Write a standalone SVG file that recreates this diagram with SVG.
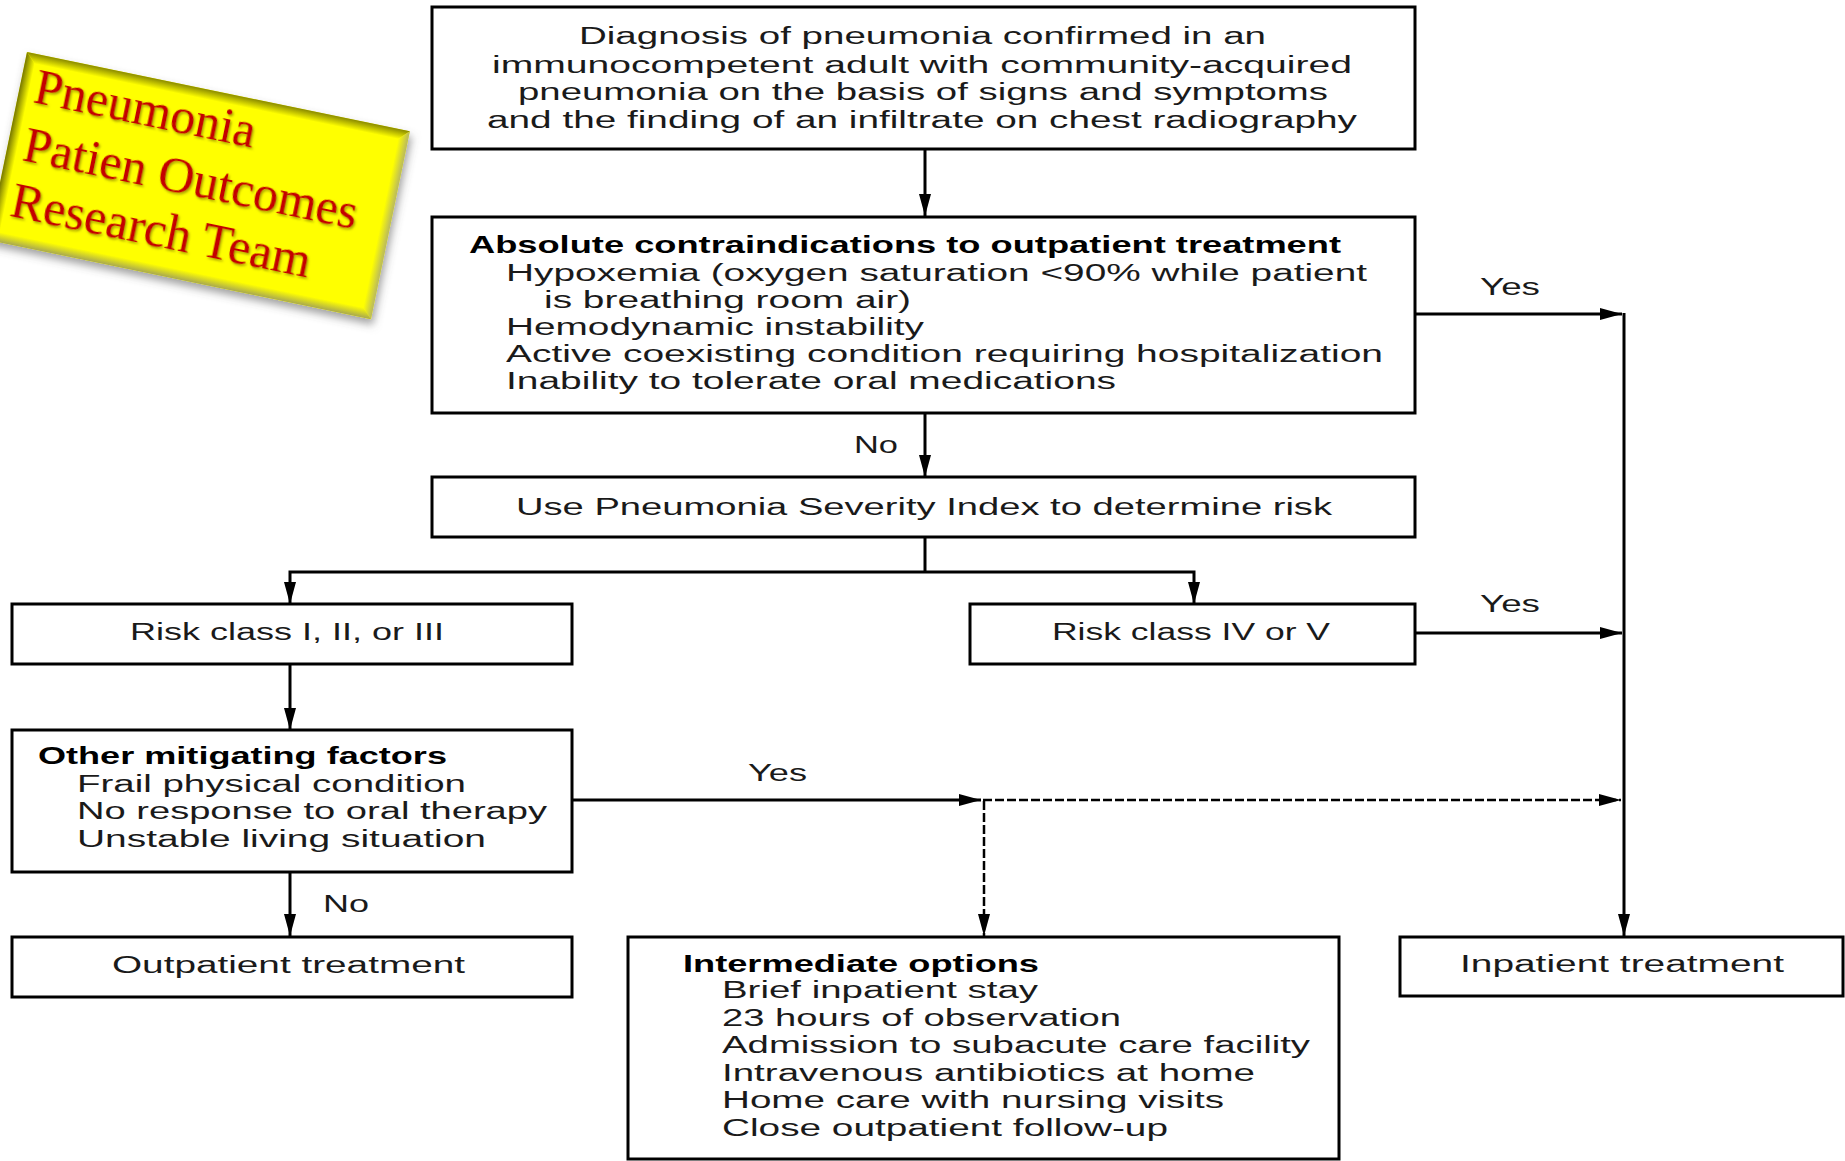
<svg xmlns="http://www.w3.org/2000/svg" width="1845" height="1161" viewBox="0 0 1845 1161">
<style>
  .box { fill: #ffffff; stroke: #000000; stroke-width: 3; }
  .t { font-family: "Liberation Sans", Arial, sans-serif; font-size: 23px; fill: #1a1a1a; }
  .b { font-weight: bold; fill: #000000; }
  .c { fill: none; stroke: #000000; stroke-width: 3; }
  .d { fill: none; stroke: #000000; stroke-width: 2.5; stroke-dasharray: 9 3; }
  .lbl { font-family: "Liberation Serif", "Times New Roman", serif; font-size: 50px; fill: #c40000; }
</style>
<defs>
  <marker id="ah" viewBox="0 0 22 12" markerUnits="userSpaceOnUse" markerWidth="22" markerHeight="12" refX="22" refY="6" orient="auto">
    <path d="M0,0 L22,6 L0,12 z" fill="#000000"/>
  </marker>
  <filter id="shadow" x="-10%" y="-10%" width="125%" height="130%">
    <feDropShadow dx="3" dy="5" stdDeviation="4" flood-color="#555555" flood-opacity="0.55"/>
  </filter>
  <filter id="tshadow" x="-5%" y="-10%" width="115%" height="130%">
    <feDropShadow dx="1.5" dy="1.5" stdDeviation="0.8" flood-color="#6b5a00" flood-opacity="0.6"/>
  </filter>
  <linearGradient id="gTop" x1="0" y1="0" x2="0" y2="1">
    <stop offset="0" stop-color="#8a8a00"/>
    <stop offset="1" stop-color="#ffff00"/>
  </linearGradient>
  <linearGradient id="gLeft" x1="0" y1="0" x2="1" y2="0">
    <stop offset="0" stop-color="#767600"/>
    <stop offset="1" stop-color="#ffff00"/>
  </linearGradient>
  <linearGradient id="gRight" x1="0" y1="0" x2="1" y2="0">
    <stop offset="0" stop-color="#ffff00"/>
    <stop offset="1" stop-color="#b8b860"/>
  </linearGradient>
  <linearGradient id="gBottom" x1="0" y1="0" x2="0" y2="1">
    <stop offset="0" stop-color="#ffff00"/>
    <stop offset="1" stop-color="#a8a850"/>
  </linearGradient>
</defs>

<!-- Title label -->
<g id="title-label" transform="translate(27,52) rotate(11.7)">
  <g filter="url(#shadow)">
    <rect x="0" y="0" width="391" height="192" fill="#ffff00"/>
  </g>
  <polygon points="0,0 391,0 381,10 10,10" fill="url(#gTop)"/>
  <polygon points="0,0 10,10 10,182 0,192" fill="url(#gLeft)"/>
  <polygon points="391,0 391,192 381,182 381,10" fill="url(#gRight)"/>
  <polygon points="0,192 391,192 381,182 10,182" fill="url(#gBottom)"/>
  <g filter="url(#tshadow)">
    <text class="lbl" x="15" y="48">Pneumonia</text>
    <text class="lbl" x="16" y="107">Patien Outcomes</text>
    <text class="lbl" x="15" y="164">Research Team</text>
  </g>
</g>

<!-- Connectors -->
<g id="connectors">
  <line class="c" x1="925" y1="149" x2="925" y2="216" marker-end="url(#ah)"/>
  <line class="c" x1="925" y1="413" x2="925" y2="477" marker-end="url(#ah)"/>
  <line class="c" x1="925" y1="537" x2="925" y2="572"/>
  <polyline class="c" points="925,572 290,572 290,604" marker-end="url(#ah)"/>
  <polyline class="c" points="925,572 1194,572 1194,604" marker-end="url(#ah)"/>
  <line class="c" x1="1415" y1="314" x2="1622" y2="314" marker-end="url(#ah)"/>
  <line class="c" x1="1415" y1="633" x2="1622" y2="633" marker-end="url(#ah)"/>
  <line class="c" x1="1624" y1="313" x2="1624" y2="936" marker-end="url(#ah)"/>
  <line class="c" x1="290" y1="664" x2="290" y2="730" marker-end="url(#ah)"/>
  <line class="c" x1="290" y1="872" x2="290" y2="936" marker-end="url(#ah)"/>
  <line class="c" x1="572" y1="800" x2="981" y2="800" marker-end="url(#ah)"/>
  <line class="d" x1="983" y1="800" x2="1621" y2="800" marker-end="url(#ah)"/>
  <line class="d" x1="984" y1="801" x2="984" y2="936" marker-end="url(#ah)"/>
  <text class="t" x="854" y="453" textLength="44" lengthAdjust="spacingAndGlyphs">No</text>
  <text class="t" x="1480" y="295" textLength="60" lengthAdjust="spacingAndGlyphs">Yes</text>
  <text class="t" x="1480" y="612" textLength="60" lengthAdjust="spacingAndGlyphs">Yes</text>
  <text class="t" x="748" y="781" textLength="59" lengthAdjust="spacingAndGlyphs">Yes</text>
  <text class="t" x="323" y="912" textLength="46" lengthAdjust="spacingAndGlyphs">No</text>
</g>

<!-- Nodes -->
<g id="diagnosis">
  <rect class="box" x="432" y="7" width="983" height="142"/>
  <text class="t" x="579" y="44" textLength="687" lengthAdjust="spacingAndGlyphs">Diagnosis of pneumonia confirmed in an</text>
  <text class="t" x="492" y="73" textLength="860" lengthAdjust="spacingAndGlyphs">immunocompetent adult with community-acquired</text>
  <text class="t" x="518" y="100" textLength="810" lengthAdjust="spacingAndGlyphs">pneumonia on the basis of signs and symptoms</text>
  <text class="t" x="487" y="128" textLength="870" lengthAdjust="spacingAndGlyphs">and the finding of an infiltrate on chest radiography</text>
</g>

<g id="contraindications">
  <rect class="box" x="432" y="217" width="983" height="196"/>
  <text class="t b" x="469" y="253" textLength="872" lengthAdjust="spacingAndGlyphs">Absolute contraindications to outpatient treatment</text>
  <text class="t" x="506" y="281" textLength="861" lengthAdjust="spacingAndGlyphs">Hypoxemia (oxygen saturation &lt;90% while patient</text>
  <text class="t" x="544" y="308" textLength="367" lengthAdjust="spacingAndGlyphs">is breathing room air)</text>
  <text class="t" x="506" y="335" textLength="418" lengthAdjust="spacingAndGlyphs">Hemodynamic instability</text>
  <text class="t" x="506" y="362" textLength="877" lengthAdjust="spacingAndGlyphs">Active coexisting condition requiring hospitalization</text>
  <text class="t" x="506" y="389" textLength="610" lengthAdjust="spacingAndGlyphs">Inability to tolerate oral medications</text>
</g>

<g id="psi">
  <rect class="box" x="432" y="477" width="983" height="60"/>
  <text class="t" x="516" y="515" textLength="816" lengthAdjust="spacingAndGlyphs">Use Pneumonia Severity Index to determine risk</text>
</g>

<g id="risk-low">
  <rect class="box" x="12" y="604" width="560" height="60"/>
  <text class="t" x="130" y="640" textLength="314" lengthAdjust="spacingAndGlyphs">Risk class I, II, or III</text>
</g>

<g id="risk-high">
  <rect class="box" x="970" y="604" width="445" height="60"/>
  <text class="t" x="1052" y="640" textLength="278" lengthAdjust="spacingAndGlyphs">Risk class IV or V</text>
</g>

<g id="mitigating">
  <rect class="box" x="12" y="730" width="560" height="142"/>
  <text class="t b" x="38" y="764" textLength="409" lengthAdjust="spacingAndGlyphs">Other mitigating factors</text>
  <text class="t" x="77" y="792" textLength="389" lengthAdjust="spacingAndGlyphs">Frail physical condition</text>
  <text class="t" x="77" y="819" textLength="470" lengthAdjust="spacingAndGlyphs">No response to oral therapy</text>
  <text class="t" x="77" y="847" textLength="409" lengthAdjust="spacingAndGlyphs">Unstable living situation</text>
</g>

<g id="outpatient">
  <rect class="box" x="12" y="937" width="560" height="60"/>
  <text class="t" x="112" y="973" textLength="353" lengthAdjust="spacingAndGlyphs">Outpatient treatment</text>
</g>

<g id="intermediate">
  <rect class="box" x="628" y="937" width="711" height="222"/>
  <text class="t b" x="683" y="972" textLength="356" lengthAdjust="spacingAndGlyphs">Intermediate options</text>
  <text class="t" x="722" y="998" textLength="316" lengthAdjust="spacingAndGlyphs">Brief inpatient stay</text>
  <text class="t" x="722" y="1026" textLength="399" lengthAdjust="spacingAndGlyphs">23 hours of observation</text>
  <text class="t" x="722" y="1053" textLength="588" lengthAdjust="spacingAndGlyphs">Admission to subacute care facility</text>
  <text class="t" x="722" y="1081" textLength="533" lengthAdjust="spacingAndGlyphs">Intravenous antibiotics at home</text>
  <text class="t" x="722" y="1108" textLength="502" lengthAdjust="spacingAndGlyphs">Home care with nursing visits</text>
  <text class="t" x="722" y="1136" textLength="446" lengthAdjust="spacingAndGlyphs">Close outpatient follow-up</text>
</g>

<g id="inpatient">
  <rect class="box" x="1400" y="937" width="443" height="59"/>
  <text class="t" x="1460" y="972" textLength="324" lengthAdjust="spacingAndGlyphs">Inpatient treatment</text>
</g>
</svg>
